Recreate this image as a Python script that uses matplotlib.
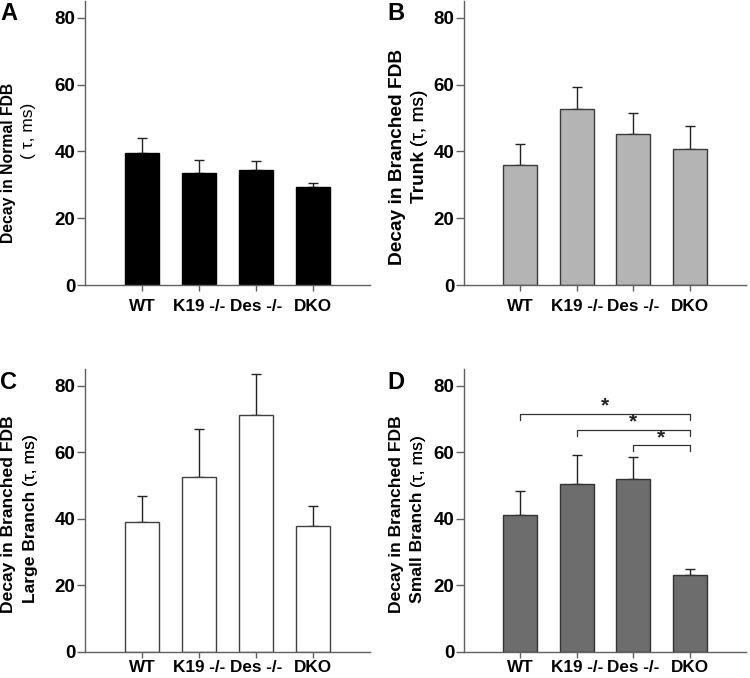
import matplotlib
matplotlib.use("Agg")
import matplotlib.pyplot as plt

plt.rcParams['font.family'] = ['Liberation Sans', 'DejaVu Sans']

categories = ["WT", "K19 -/-", "Des -/-", "DKO"]
yticks = [0, 20, 40, 60, 80]

a_means = [39.4, 33.6, 34.4, 29.2]
a_err = [4.5, 3.8, 2.8, 1.4]
b_means = [35.8, 52.6, 45.1, 40.8]
b_err = [6.5, 6.6, 6.3, 6.7]
c_means = [39.0, 52.7, 71.3, 37.8]
c_err = [7.8, 14.2, 12.3, 6.2]
d_means = [41.2, 50.5, 51.9, 23.1]
d_err = [7.3, 8.7, 6.8, 1.8]

# significance comparisons in panel D: (i, j, bracket height)
d_sig = [(0, 3, 71.6), (1, 3, 66.8), (2, 3, 62.2)]

W, H = 750, 678
fig = plt.figure(figsize=(W / 100, H / 100), dpi=100)


def px_axes(left, top, right, bottom):
    return fig.add_axes([left / W, 1 - bottom / H, (right - left) / W, (bottom - top) / H])


def ftext(x, y, s, **kw):
    return fig.text(x / W, 1 - y / H, s, **kw)


spine_col = "#606060"


def panel(ax, means, errs, face, edge, xpad):
    x = list(range(len(categories)))
    ax.bar(x, means, width=0.6, color=face, edgecolor=edge, linewidth=1.0, zorder=2)
    ax.errorbar(x, means, yerr=[[0] * len(errs), errs], fmt="none", ecolor="#222222",
                elinewidth=1.0, capsize=3.6, capthick=1.0, zorder=1)
    ax.set_xlim(-1, 4)
    ax.set_ylim(0, 85)
    ax.set_yticks(yticks)
    ax.set_xticks(x)
    ax.set_xticklabels(categories)
    ax.set_yticklabels([str(t) for t in yticks])
    for s in ["top", "right"]:
        ax.spines[s].set_visible(False)
    for s in ["left", "bottom"]:
        ax.spines[s].set_color(spine_col)
        ax.spines[s].set_linewidth(1.0)
    ax.tick_params(axis="y", direction="out", length=5.5, width=1.0, color=spine_col,
                   pad=1.5, labelsize=13.5)
    ax.tick_params(axis="x", direction="out", length=4, width=1.0, color=spine_col,
                   pad=xpad, labelsize=12.3)
    for lab in ax.get_xticklabels() + ax.get_yticklabels():
        lab.set_fontweight("bold")
    ax.patch.set_visible(False)


axA = px_axes(85, 1, 370, 285)
axB = px_axes(464, 1, 746, 285)
axC = px_axes(85, 369, 370, 652)
axD = px_axes(464, 369, 746, 652)

panel(axA, a_means, a_err, "#000000", "#000000", 6)
panel(axB, b_means, b_err, "#b4b4b4", "#3a3a3a", 6)
panel(axC, c_means, c_err, "#ffffff", "#404040", 1.5)
panel(axD, d_means, d_err, "#6d6d6d", "#333333", 1.5)

# significance brackets
for i, j, h in d_sig:
    axD.plot([i, i, j, j], [h - 1.8, h, h, h - 1.8], color="#333333", lw=0.9, zorder=3)
    axD.text((i + j) / 2, h - 0.6, "*", ha="center", va="bottom", fontsize=15,
             fontweight="bold", color="#222222")

# panel letters
for x, y, s in [(0, 2, "A"), (387, 2, "B"), (0, 371, "C"), (387, 371, "D")]:
    ftext(x, y, s, fontsize=17, fontweight="bold", ha="left", va="top")

# y labels
lab1 = dict(rotation=90, ha="center", va="center", fontweight="bold")
ftext(8.5, 163, "Decay in Normal FDB", fontsize=11.3, **lab1)
ftext(29, 131, "( \u03c4, ms)", rotation=90, ha="center", va="center", fontsize=12.5)

ftext(397, 157, "Decay in Branched FDB", fontsize=13.8, **lab1)
ftext(9, 514, "Decay in Branched FDB", fontsize=12.6, **lab1)
ftext(397, 514, "Decay in Branched FDB", fontsize=12.6, **lab1)


def chain(x, ybottom, bold_part, normal_part, fs):
    t1 = ftext(x, ybottom, bold_part + " ", rotation=90, ha="center", va="bottom",
               fontsize=fs, fontweight="bold")
    ann = plt.annotate(normal_part, xy=(0.5, 1.0), xycoords=t1, rotation=90,
                       ha="center", va="bottom", fontsize=fs, annotation_clip=False)
    fig.add_artist(ann)
    return t1


chain(419.5, 203, "Trunk", "(\u03c4, ms)", 13.8)
chain(30, 603, "Large Branch", "(\u03c4, ms)", 12.6)
chain(418, 603, "Small Branch", "(\u03c4, ms)", 12.6)

fig.savefig("out.png", dpi=100)
